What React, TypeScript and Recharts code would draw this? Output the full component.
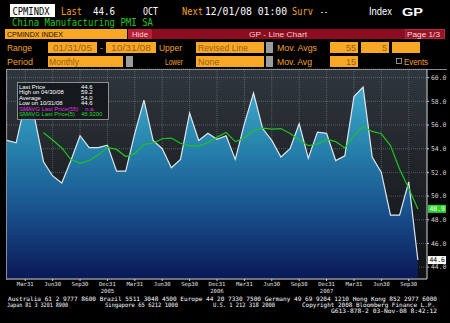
import React from "react";
import {
  ComposedChart,
  Area,
  Line,
  XAxis,
  YAxis,
  CartesianGrid,
  ReferenceLine,
} from "recharts";

const months = [
  "Jan05", "Feb05", "Mar05", "Apr05", "May05", "Jun05", "Jul05", "Aug05", "Sep05", "Oct05", "Nov05", "Dec05",
  "Jan06", "Feb06", "Mar06", "Apr06", "May06", "Jun06", "Jul06", "Aug06", "Sep06", "Oct06", "Nov06", "Dec06",
  "Jan07", "Feb07", "Mar07", "Apr07", "May07", "Jun07", "Jul07", "Aug07", "Sep07", "Oct07", "Nov07", "Dec07",
  "Jan08", "Feb08", "Mar08", "Apr08", "May08", "Jun08", "Jul08", "Aug08", "Sep08", "Oct08",
];

const pmi = [
  54.7, 54.5, 57.9, 56.7, 52.9, 51.7, 51.1, 53.0, 55.1, 54.1, 54.1, 54.3,
  52.1, 52.1, 55.3, 58.1, 54.7, 54.0, 52.4, 53.1, 57.0, 54.7, 55.3, 54.8,
  55.1, 53.1, 56.1, 58.7, 55.7, 54.7, 53.3, 54.0, 56.1, 53.2, 55.4, 55.3,
  53.0, 53.4, 58.4, 59.2, 53.3, 52.0, 48.4, 48.4, 51.2, 44.6,
];

// 5 month moving average (green)
const sma5 = [
  null, null, null, null, 55.34, 54.74, 54.06, 53.08, 52.76, 53.0, 53.48, 54.12,
  53.94, 53.34, 53.58, 54.38, 54.46, 54.84, 54.9, 54.46, 54.24, 54.24, 54.5, 54.98,
  55.38, 54.6, 54.88, 55.56, 55.74, 55.66, 55.7, 55.28, 54.76, 54.26, 54.4, 54.8,
  54.6, 54.06, 55.1, 55.86, 55.46, 55.26, 54.26, 52.26, 50.66, 48.92,
];

const quarterTicks = [2, 5, 8, 11, 14, 17, 20, 23, 26, 29, 32, 35, 38, 41, 44];
const quarterLabels = ["Mar31", "Jun30", "Sep30", "Dec31"];
const yearLabels = ["2005", "2006", "2007"];
const yTicks = [44, 46, 48, 50, 52, 54, 56, 58, 60];

const statRows = [
  ["Last Price", "44.6", "#ffffff"],
  ["High on 04/30/08", "59.2", "#ffffff"],
  ["Average", "54.0", "#ffffff"],
  ["Low on 10/31/08", "44.6", "#ffffff"],
  ["SMAVG Last Price(55)", "n.a.", "#e02ce0"],
  ["SMAVG Last Price(5)", "48.9200", "#22d222"],
];

const rows = months.map((m, i) => ({ i, m, pmi: pmi[i], sma: sma5[i] }));

const MONO = "DejaVu Sans Mono";
const SANS = "Liberation Sans";
const ORANGE = "#f0a028";
const BOX = "#f8a825";
const BOXTXT = "#9a5e14";

function T(props: any) {
  const { x, y, w, size = 9, color = "#fff", family = MONO, weight, anchor, children } = props;
  return (
    <text
      x={x}
      y={y}
      fontSize={size}
      fill={color}
      fontFamily={family}
      fontWeight={weight}
      textAnchor={anchor}
      textLength={w}
      lengthAdjust={w ? "spacingAndGlyphs" : undefined}
    >
      {children}
    </text>
  );
}

function QuarterTick(props: any) {
  const { x, y, payload } = props;
  const k = quarterTicks.indexOf(payload.value);
  const year = k % 4 === 3 ? yearLabels[(k - 3) / 4] : null;
  return (
    <g>
      <text x={x} y={y + 3} textAnchor="middle" fontSize={5.6} fill="#e0e0e0" fontFamily={MONO}>
        {quarterLabels[k % 4]}
      </text>
      {year && (
        <text x={x} y={y + 9.5} textAnchor="middle" fontSize={5.6} fill="#e0e0e0" fontFamily={MONO}>
          {year}
        </text>
      )}
    </g>
  );
}

function ValueTick(props: any) {
  const { x, y, payload } = props;
  return (
    <text x={x} y={y + 2.3} fontSize={6.4} fill="#d0d0d0" fontFamily={MONO}>
      {payload.value.toFixed(1)}
    </text>
  );
}

function Flag(props: any) {
  const { viewBox, text, bg, color } = props;
  const x = viewBox.x + viewBox.width + 1;
  return (
    <g>
      <rect x={x} y={viewBox.y - 4} width={18} height={8} fill={bg} />
      <text x={x + 1.5} y={viewBox.y + 2.3} fontSize={6.4} fill={color} fontFamily={MONO}>
        {text}
      </text>
    </g>
  );
}

function Header() {
  return (
    <svg width={450} height={323} style={{ position: "absolute", left: 0, top: 0 }}>
      <defs>
        <linearGradient id="plotBg" x1="0" y1="0" x2="0" y2="1">
          <stop offset="0%" stopColor="#2f363d" />
          <stop offset="40%" stopColor="#22272c" />
          <stop offset="100%" stopColor="#0f1113" />
        </linearGradient>
      </defs>
      {/* row 1 */}
      <rect x={10} y={4} width={45} height={13} fill="#ffffff" />
      <T x={12.5} y={15} w={37} size={10.5} color="#000">CPMINDX</T>
      <T x={61} y={15} w={21} size={10.5} color={ORANGE}>Last</T>
      <T x={93} y={15} w={22} size={10.5}>44.6</T>
      <T x={143} y={15} w={15} size={10.5}>OCT</T>
      <T x={182} y={15} w={21} size={10.5} color={ORANGE}>Next</T>
      <T x={205} y={15} w={82} size={10.5}>12/01/08 01:00</T>
      <T x={292} y={15} w={21} size={10.5} color={ORANGE}>Surv</T>
      <T x={320} y={15} w={8} size={10.5}>--</T>
      <T x={369} y={15} w={23} size={10.5} family={SANS}>Index</T>
      <T x={402} y={15.5} w={21} size={11.5} family={SANS} weight="bold">GP</T>
      {/* row 2 */}
      <T x={12} y={25.5} w={141} size={10} color="#22c422">China Manufacturing PMI SA</T>
      {/* row 3 */}
      <rect x={5} y={29} width={122} height={10} fill={BOX} />
      <T x={7} y={37.3} w={56} size={8} family={SANS} color="#1a1200">CPMINDX INDEX</T>
      <rect x={128} y={29} width={24} height={10} fill="#b81e38" />
      <T x={132} y={37.3} w={16} size={8} family={SANS} color="#f8d4d4">Hide</T>
      <rect x={152} y={29} width={293} height={10} fill="#8c0d20" />
      <T x={249} y={37.3} w={58} size={8} family={SANS} color="#f6cccc">GP - Line Chart</T>
      <rect x={405.5} y={29.5} width={39} height={9} fill="#9a1428" stroke="#c04050" strokeWidth={0.6} />
      <T x={407} y={37.3} w={33} size={8} family={SANS} color="#f8d8d8">Page 1/3</T>
      {/* row 4 */}
      <T x={7} y={50.5} w={25} size={9} family={SANS} color={ORANGE}>Range</T>
      <rect x={48} y={42} width={49} height={11} fill={BOX} />
      <T x={53} y={50.5} w={39} size={9} family={SANS} color={BOXTXT}>01/31/05</T>
      <T x={100} y={50.5} size={9} family={SANS} color={ORANGE}>-</T>
      <rect x={106} y={42} width={50} height={11} fill={BOX} />
      <T x={111} y={50.5} w={40} size={9} family={SANS} color={BOXTXT}>10/31/08</T>
      <T x={159} y={50.5} w={23} size={9} family={SANS} color={ORANGE}>Upper</T>
      <rect x={196} y={42} width={68} height={11} fill={BOX} />
      <T x={198} y={50.5} w={50} size={9} family={SANS} color={BOXTXT}>Revised Line</T>
      <rect x={266} y={42} width={7} height={11} fill="#9c9c9c" />
      <T x={277} y={50.5} w={40} size={9} family={SANS} color={ORANGE}>Mov. Avgs</T>
      <rect x={330} y={42} width={28} height={11} fill={BOX} />
      <T x={356} y={50.5} size={9} family={SANS} color={BOXTXT} anchor="end">55</T>
      <rect x={361} y={42} width={28} height={11} fill={BOX} />
      <T x={387} y={50.5} size={9} family={SANS} color={BOXTXT} anchor="end">5</T>
      <rect x={392} y={42} width={28} height={11} fill={BOX} />
      {/* row 5 */}
      <T x={7} y={64.5} w={26} size={9} family={SANS} color={ORANGE}>Period</T>
      <rect x={48} y={56} width={75} height={11} fill={BOX} />
      <T x={49} y={64.5} w={30} size={9} family={SANS} color={BOXTXT}>Monthly</T>
      <rect x={126} y={56} width={7} height={11} fill="#9c9c9c" />
      <T x={165} y={64.5} w={18} size={9} family={SANS} color={ORANGE}>Lower</T>
      <rect x={196} y={56} width={68} height={11} fill={BOX} />
      <T x={198} y={64.5} size={9} family={SANS} color={BOXTXT}>None</T>
      <rect x={266} y={56} width={7} height={11} fill="#9c9c9c" />
      <T x={277} y={64.5} w={35} size={9} family={SANS} color={ORANGE}>Mov. Avg</T>
      <rect x={330} y={56} width={28} height={11} fill={BOX} />
      <T x={356} y={64.5} size={9} family={SANS} color={BOXTXT} anchor="end">15</T>
      <rect x={396.5} y={58.5} width={5} height={5} fill="none" stroke="#b0b0b0" strokeWidth={0.8} />
      <T x={404} y={64.5} w={24} size={9} family={SANS} color={ORANGE}>Events</T>
      {/* chart frame and plot background */}
      <rect x={7} y={70} width={420} height={209} fill="url(#plotBg)" />
      <line x1={6} y1={69.5} x2={447} y2={69.5} stroke="#8a8a8a" strokeWidth={1} />
      <line x1={6.5} y1={69} x2={6.5} y2={280} stroke="#8a8a8a" strokeWidth={1} />
      {/* footer */}
      <T x={8} y={300.5} w={429} size={6}>
        Australia 61 2 9777 8600 Brazil 5511 3048 4500 Europe 44 20 7330 7500 Germany 49 69 9204 1210 Hong Kong 852 2977 6000
      </T>
      <T x={7} y={306.8} w={61} size={6}>Japan 81 3 3201 8900</T>
      <T x={105} y={306.8} w={73} size={6}>Singapore 65 6212 1000</T>
      <T x={213} y={306.8} w={62} size={6}>U.S. 1 212 318 2000</T>
      <T x={302} y={306.8} w={133} size={6}>Copyright 2008 Bloomberg Finance L.P.</T>
      <T x={331} y={313} w={106} size={6}>G613-878-2 03-Nov-08  8:42:12</T>
    </svg>
  );
}

function StatsBox() {
  return (
    <svg width={450} height={323} style={{ position: "absolute", left: 0, top: 0, pointerEvents: "none" }}>
      <rect x={17.5} y={82.5} width={91} height={37} fill="#14171b" fillOpacity={0.92} stroke="#a8a8a8" strokeWidth={0.8} />
      {statRows.map(([label, value, color], k) => (
        <g key={label}>
          <text x={19} y={88.7 + k * 5.55} fontSize={5.9} fill={color} fontFamily={SANS}>
            {label}
          </text>
          <text x={k === 4 ? 85 : 81} y={88.7 + k * 5.55} fontSize={5.9} fill={color} fontFamily={SANS}>
            {value}
          </text>
        </g>
      ))}
    </svg>
  );
}

export default function App() {
  const lastPmi = pmi[pmi.length - 1];
  const lastSma = sma5[sma5.length - 1] as number;
  return (
    <div style={{ position: "fixed", left: 0, top: 0, width: 450, height: 323, background: "#000", overflow: "hidden" }}>
      <Header />
      <ComposedChart
        width={450}
        height={323}
        data={rows}
        margin={{ top: 69, right: 0, bottom: 0, left: 7 }}
        style={{ position: "absolute", left: 0, top: 0 }}
      >
        <defs>
          <linearGradient id="pmiFill" x1="0" y1="0" x2="0" y2="1">
            <stop offset="0%" stopColor="#3fa9cd" />
            <stop offset="30%" stopColor="#2784ad" />
            <stop offset="62%" stopColor="#1a5590" />
            <stop offset="100%" stopColor="#0a1857" />
          </linearGradient>
        </defs>
        <XAxis
          type="number"
          dataKey="i"
          domain={[0, 46]}
          ticks={quarterTicks}
          interval={0}
          height={44}
          tickSize={2}
          tick={<QuarterTick />}
          axisLine={{ stroke: "#d0d0d0" }}
          tickLine={{ stroke: "#d0d0d0" }}
        />
        <YAxis
          orientation="right"
          type="number"
          domain={[43, 60.73]}
          ticks={yTicks}
          interval={0}
          width={23}
          tickSize={2}
          tick={<ValueTick />}
          axisLine={{ stroke: "#c8c8c8" }}
          tickLine={{ stroke: "#c8c8c8" }}
        />
        <Area
          type="linear"
          dataKey="pmi"
          stroke="none"
          fill="url(#pmiFill)"
          fillOpacity={1}
          isAnimationActive={false}
        />
        <CartesianGrid stroke="#b8c4cc" strokeOpacity={0.32} strokeDasharray="1 1" />
        <Line
          type="linear"
          dataKey="pmi"
          stroke="#dfe6ec"
          strokeWidth={1.2}
          dot={false}
          isAnimationActive={false}
        />
        <Line
          type="linear"
          dataKey="sma"
          stroke="#1fc41f"
          strokeWidth={1.2}
          dot={false}
          isAnimationActive={false}
        />
        <ReferenceLine
          y={lastSma}
          strokeOpacity={0}
          label={<Flag text={lastSma.toFixed(1)} bg="#2bd42b" color="#ffffff" />}
        />
        <ReferenceLine
          y={lastPmi}
          strokeOpacity={0}
          label={<Flag text={lastPmi.toFixed(1)} bg="#ffffff" color="#000000" />}
        />
      </ComposedChart>
      <StatsBox />
    </div>
  );
}
